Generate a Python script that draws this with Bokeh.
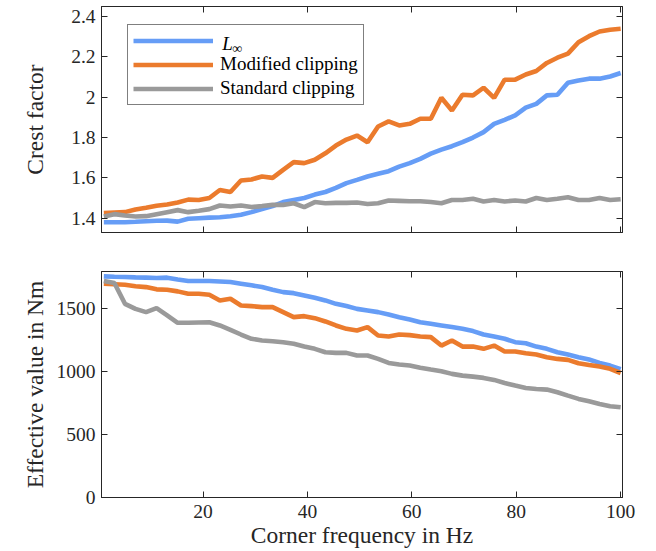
import numpy as np
from bokeh.plotting import figure
from bokeh.models import (Range1d, LinearAxis, FixedTicker, NumeralTickFormatter,
                          Legend, LegendItem)
from bokeh.core.properties import value
from bokeh.layouts import column
from bokeh.embed import file_html
from bokeh.resources import INLINE

# ---------------- data ----------------
freq = np.linspace(1, 100, 50)  # corner frequency grid in Hz

crest_linf = [1.380, 1.380, 1.380, 1.382, 1.385, 1.387, 1.388, 1.383, 1.397, 1.400,
              1.403, 1.405, 1.410, 1.417, 1.430, 1.445, 1.460, 1.480, 1.490, 1.500,
              1.517, 1.530, 1.550, 1.574, 1.590, 1.607, 1.620, 1.633, 1.656, 1.673,
              1.694, 1.720, 1.740, 1.757, 1.777, 1.800, 1.827, 1.868, 1.888, 1.910,
              1.948, 1.967, 2.009, 2.012, 2.072, 2.083, 2.092, 2.092, 2.103, 2.120]
crest_mod = [1.425, 1.428, 1.430, 1.443, 1.452, 1.462, 1.468, 1.478, 1.492, 1.490,
             1.500, 1.540, 1.530, 1.587, 1.592, 1.607, 1.600, 1.640, 1.678, 1.673,
             1.690, 1.722, 1.760, 1.790, 1.810, 1.777, 1.855, 1.880, 1.860, 1.868,
             1.893, 1.893, 1.997, 1.934, 2.012, 2.009, 2.047, 1.997, 2.087, 2.087,
             2.113, 2.130, 2.170, 2.196, 2.216, 2.273, 2.303, 2.326, 2.335, 2.340]
crest_std = [1.408, 1.420, 1.413, 1.408, 1.410, 1.420, 1.430, 1.440, 1.430, 1.437,
             1.445, 1.463, 1.458, 1.463, 1.455, 1.460, 1.466, 1.466, 1.474, 1.455,
             1.480, 1.474, 1.476, 1.476, 1.478, 1.470, 1.474, 1.488, 1.486, 1.484,
             1.484, 1.480, 1.474, 1.490, 1.490, 1.496, 1.483, 1.490, 1.483, 1.488,
             1.483, 1.500, 1.490, 1.496, 1.504, 1.490, 1.490, 1.500, 1.490, 1.494]

eff_linf = [1758, 1755, 1753, 1750, 1748, 1745, 1748, 1734, 1721, 1721,
            1721, 1718, 1713, 1700, 1687, 1673, 1652, 1633, 1625, 1607,
            1588, 1567, 1540, 1522, 1500, 1487, 1474, 1455, 1434, 1416,
            1394, 1381, 1368, 1355, 1341, 1323, 1296, 1280, 1262, 1235,
            1227, 1200, 1182, 1155, 1137, 1116, 1097, 1070, 1049, 1020]
eff_mod = [1700, 1696, 1692, 1680, 1673, 1655, 1652, 1639, 1620, 1620,
           1612, 1567, 1580, 1527, 1522, 1514, 1514, 1474, 1434, 1442,
           1426, 1400, 1368, 1341, 1328, 1355, 1288, 1280, 1296, 1291,
           1280, 1275, 1208, 1248, 1200, 1200, 1182, 1208, 1161, 1161,
           1147, 1137, 1116, 1102, 1094, 1068, 1054, 1041, 1023, 990]
eff_std = [1721, 1705, 1540, 1500, 1474, 1506, 1448, 1389, 1389, 1392,
           1394, 1368, 1333, 1296, 1262, 1248, 1243, 1235, 1222, 1200,
           1182, 1155, 1150, 1150, 1129, 1129, 1102, 1070, 1057, 1049,
           1031, 1017, 1004, 983, 969, 961, 951, 935, 911, 890,
           871, 863, 858, 837, 810, 784, 765, 744, 725, 717]

x_ticks = [20, 40, 60, 80, 100]
crest_ticks = [1.4, 1.6, 1.8, 2.0, 2.2, 2.4]
eff_ticks = [0, 500, 1000, 1500]

series_names = ["L", "Modified clipping", "Standard clipping"]
linf_subscript = "\u221e"
colors = ["#669DF6", "#EB7B2D", "#9A9A9A"]

# ---------------- style ----------------
FONT = "Liberation Serif"
INK = "#262626"
LW = 4.6

x_range = Range1d(0.55, 100.35)


def style_axis(ax, ticks, show_labels, fmt=None):
    ax.ticker = FixedTicker(ticks=ticks)
    ax.major_tick_in = 6
    ax.major_tick_out = 0
    ax.minor_tick_line_color = None
    ax.axis_line_color = INK
    ax.major_tick_line_color = INK
    ax.major_label_text_font = FONT
    ax.major_label_text_color = INK
    ax.major_label_text_font_size = "19.5px"
    ax.major_label_standoff = 6
    ax.axis_label_text_font = FONT
    ax.axis_label_text_font_size = "23.5px"
    ax.axis_label_text_font_style = "normal"
    ax.axis_label_text_color = INK
    if fmt is not None:
        ax.formatter = fmt
    if not show_labels:
        ax.major_label_text_font_size = "1px"
        ax.major_label_text_color = None
        ax.major_label_standoff = 0


def make_fig(y_range, frame_h, mb_top, mb_bottom, y_ticks, y_label, show_x, y_fmt, lab_standoff):
    p = figure(frame_width=521, frame_height=frame_h, x_range=x_range, y_range=y_range,
               output_backend="svg", toolbar_location=None,
               min_border_left=101, min_border_right=16,
               min_border_top=mb_top, min_border_bottom=mb_bottom)
    p.xgrid.visible = False
    p.ygrid.visible = False
    p.outline_line_color = INK
    p.outline_line_width = 1
    p.background_fill_color = "white"
    p.border_fill_color = "white"
    style_axis(p.xaxis[0], x_ticks, show_x)
    style_axis(p.yaxis[0], y_ticks, True, y_fmt)
    p.yaxis[0].axis_label = y_label
    p.yaxis[0].axis_label_standoff = lab_standoff
    if show_x:
        p.xaxis[0].axis_label = "Corner frequency in Hz"
        p.xaxis[0].axis_label_standoff = 1
        p.xaxis[0].major_label_standoff = 7
    top_ax = LinearAxis()
    style_axis(top_ax, x_ticks, False)
    p.add_layout(top_ax, "above")
    right_ax = LinearAxis()
    style_axis(right_ax, y_ticks, False)
    p.add_layout(right_ax, "right")
    return p


# ---------------- top: crest factor ----------------
p1 = make_fig(Range1d(1.329, 2.45), 226, 6, 16, crest_ticks, "Crest factor", False,
              NumeralTickFormatter(format="0.[0]"), 20)
renderers = []
for vals, c in zip([crest_linf, crest_mod, crest_std], colors):
    renderers.append(p1.line(freq, vals, line_color=c, line_width=LW))

legend = Legend(items=[LegendItem(label=" ", renderers=[renderers[0]]),
                       LegendItem(label=series_names[1], renderers=[renderers[1]]),
                       LegendItem(label=series_names[2], renderers=[renderers[2]])],
                location=(26, 127))
legend.border_line_color = "black"
legend.border_line_width = 1
legend.background_fill_color = None
legend.label_text_font = FONT
legend.label_text_font_size = "19px"
legend.label_text_color = "black"
legend.glyph_width = 80
legend.glyph_height = 21
legend.label_height = 21
legend.spacing = 2
legend.padding = 5
legend.margin = 0
legend.label_standoff = 7
p1.add_layout(legend)

# subscripted legend label "L_inf" drawn as text glyphs inside the legend box
p1.text(x=[23.67], y=[2.264], text=[series_names[0]], text_font=value(FONT),
        text_font_style="italic", text_font_size="19px", text_baseline="middle",
        text_color="black")
p1.text(x=[23.67], y=[2.264], x_offset=10, y_offset=5, text=[linf_subscript],
        text_font=value(FONT), text_font_size="14px", text_baseline="middle",
        text_color="black")

# ---------------- bottom: effective value ----------------
p2 = make_fig(Range1d(0, 1797), 226, 23, 50, eff_ticks, "Effective value in Nm", True,
              None, 6)
for vals, c in zip([eff_linf, eff_mod, eff_std], colors):
    p2.line(freq, vals, line_color=c, line_width=LW)

layout = column(p1, p2, spacing=0)
open("out.html", "w").write(file_html(layout, INLINE))
